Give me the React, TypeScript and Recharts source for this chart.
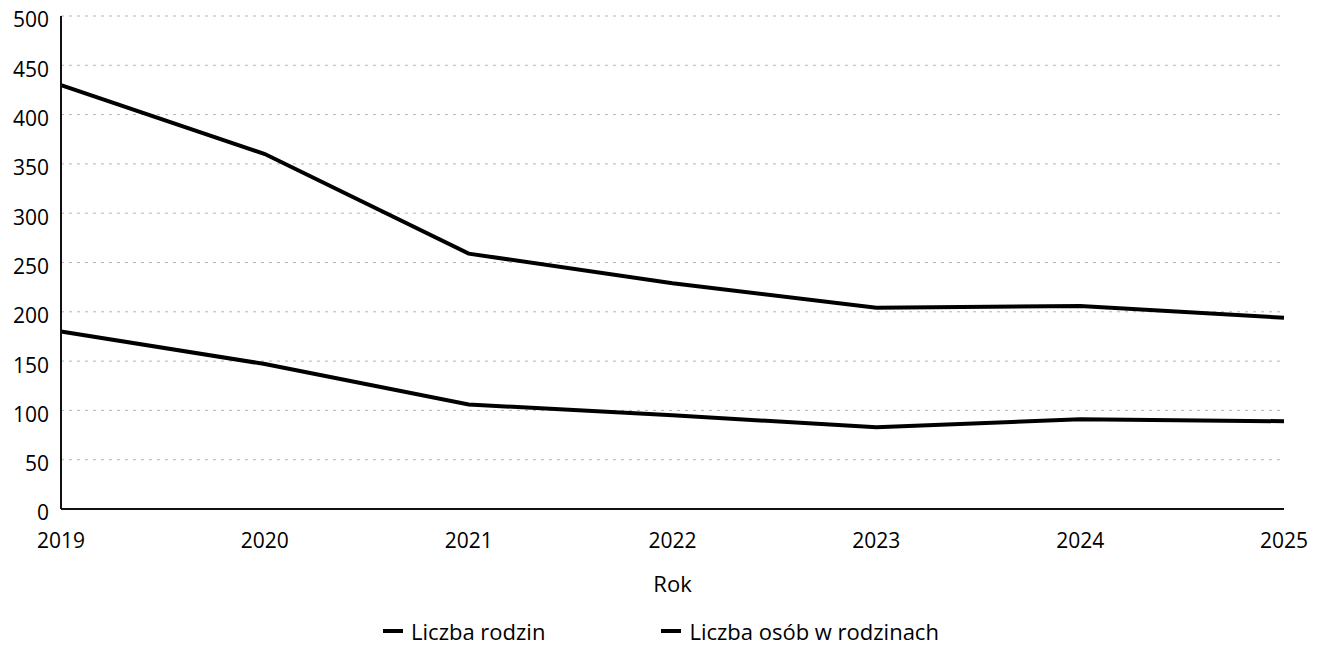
import React from 'react';
import { LineChart, Line, XAxis, YAxis, CartesianGrid, Legend } from 'recharts';

const years = ['2019', '2020', '2021', '2022', '2023', '2024', '2025'];
const liczbaRodzin = [180, 147, 106, 95, 83, 91, 89];
const liczbaOsob = [430, 360, 259, 229, 204, 206, 194];
const yTicks = [0, 50, 100, 150, 200, 250, 300, 350, 400, 450, 500];
const seriesNames = ['Liczba rodzin', 'Liczba osób w rodzinach'];

const data = years.map((rok, i) => ({
  rok,
  rodziny: liczbaRodzin[i],
  osoby: liczbaOsob[i],
}));

const FONT = '"Open Sans", "Noto Sans", sans-serif';

const LegendContent = ({ payload }: any) => {
  if (!payload) return null;
  // keep the legend in series order, not alphabetical
  const items = [...payload].sort(
    (a: any, b: any) => seriesNames.indexOf(a.value) - seriesNames.indexOf(b.value)
  );
  return (
    <div
      style={{
        display: 'flex',
        justifyContent: 'center',
        alignItems: 'center',
        gap: 116,
        height: 30,
        paddingLeft: 30,
        fontFamily: FONT,
        fontSize: 22,
        color: '#000',
      }}
    >
      {items.map((entry: any) => (
        <div key={entry.value} style={{ display: 'flex', alignItems: 'center' }}>
          <span
            style={{
              display: 'inline-block',
              width: 20,
              height: 4,
              background: entry.color,
              marginRight: 8,
            }}
          />
          <span>{entry.value}</span>
        </div>
      ))}
    </div>
  );
};

export default function App() {
  return (
    <div style={{ marginTop: -8 }}>
      <LineChart
        width={1304}
        height={648}
        data={data}
        margin={{ top: 16, right: 28, left: 0, bottom: 2 }}
        style={{ fontFamily: FONT }}
      >
        <CartesianGrid
          vertical={false}
          stroke="#b5b5b5"
          strokeDasharray="3 5"
        />
        <XAxis
          dataKey="rok"
          height={107}
          tickSize={0}
          tickMargin={24}
          tick={{ fill: '#000', fontSize: 21 }}
          axisLine={{ stroke: '#111', strokeWidth: 2 }}
          label={{ value: 'Rok', position: 'insideBottom', offset: 24, fill: '#000', fontSize: 22 }}
        />
        <YAxis
          width={53}
          domain={[0, 500]}
          ticks={yTicks}
          interval={0}
          tickSize={0}
          tickMargin={12}
          tick={{ fill: '#000', fontSize: 21, dy: 4 }}
          axisLine={{ stroke: '#111', strokeWidth: 2 }}
        />
        <Legend verticalAlign="bottom" content={<LegendContent />} />
        <Line
          type="linear"
          dataKey="rodziny"
          name={seriesNames[0]}
          stroke="#000"
          strokeWidth={4}
          dot={false}
          isAnimationActive={false}
        />
        <Line
          type="linear"
          dataKey="osoby"
          name={seriesNames[1]}
          stroke="#000"
          strokeWidth={4}
          dot={false}
          isAnimationActive={false}
        />
      </LineChart>
    </div>
  );
}
